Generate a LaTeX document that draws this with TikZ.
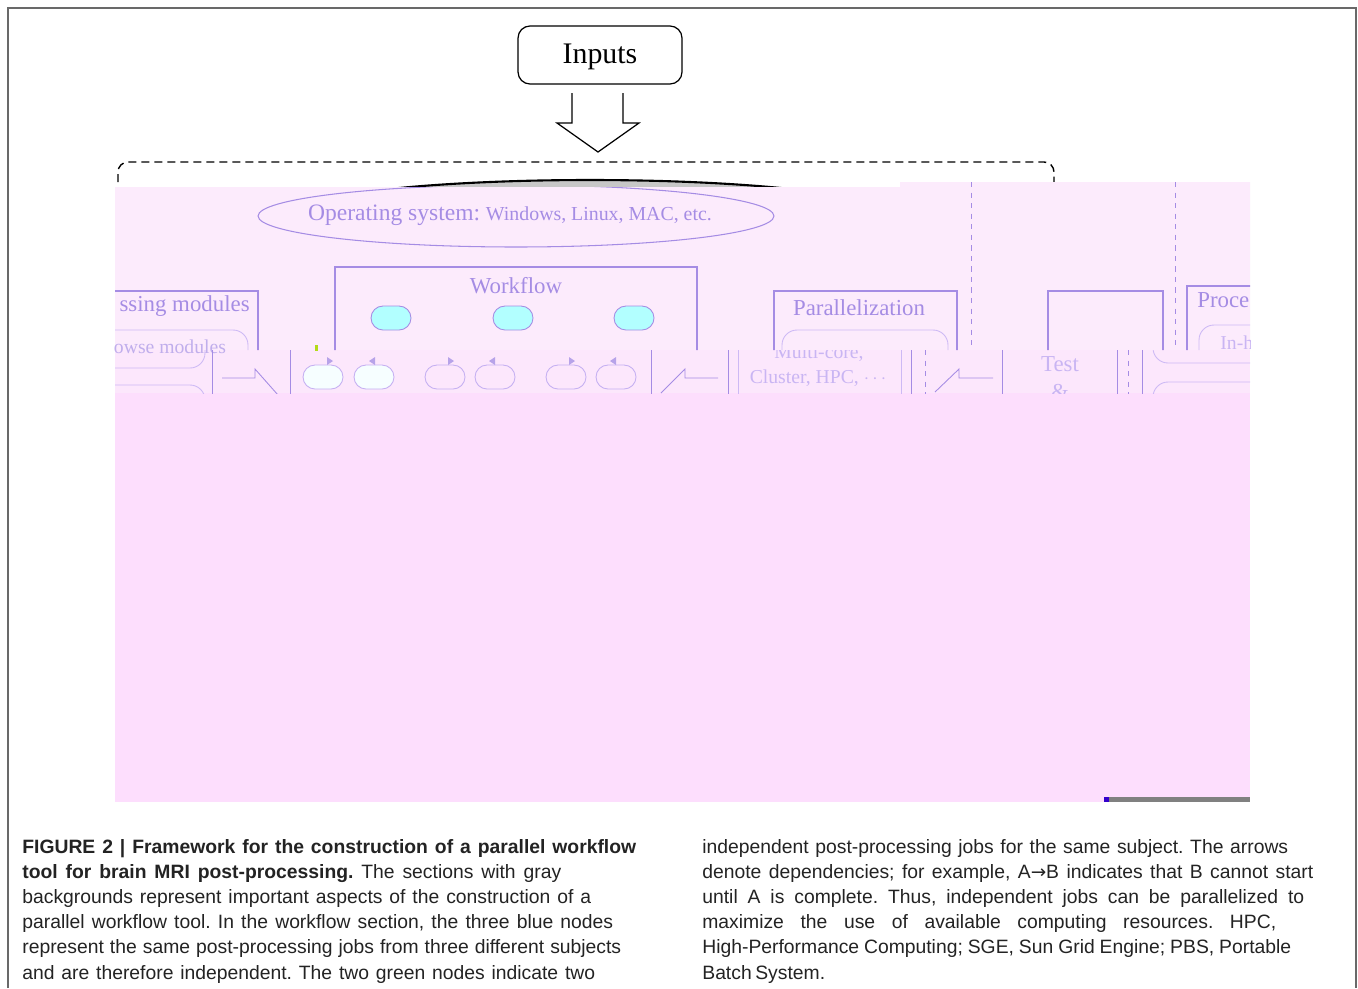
\documentclass[tikz,border=0pt]{standalone}
\usepackage{fontspec}
\setmainfont{Liberation Serif}
\newfontfamily\capfont{Liberation Sans}
\newfontfamily\arrowfont{DejaVu Sans}
\usetikzlibrary{shapes.geometric}
\definecolor{pinktop}{RGB}{252,235,252}
\definecolor{pinkband}{RGB}{252,231,252}
\definecolor{pinklow}{RGB}{253,222,253}
\definecolor{lav}{RGB}{165,140,228}
\definecolor{lavlight}{RGB}{205,185,245}
\definecolor{jobcyan}{RGB}{178,255,255}
\definecolor{jobwhite}{RGB}{246,254,255}
\definecolor{framegray}{RGB}{105,105,105}
\definecolor{captext}{RGB}{35,35,35}

\tikzset{
  inbox/.style={draw,line width=0.7pt,rounded corners=0.24cm,minimum width=3.28cm,minimum height=1.16cm,text height=1.2em,text depth=0.22em,font=\fontsize{17}{19}\selectfont},
  partbox/.style={draw=lav,line width=0.6pt},
  subbox/.style={draw=lavlight,line width=0.5pt,rounded corners=0.3cm},
  titletext/.style={text=lav,inner sep=0pt,font=\fontsize{13}{15}\selectfont},
  bandtext/.style={text=lavlight!90!lav,inner sep=0pt,font=\fontsize{11.2}{13}\selectfont},
  jobnode/.style={draw=lavlight!80!lav,line width=0.5pt,rounded corners=0.24cm,minimum width=0.8cm,minimum height=0.48cm,inner sep=0pt},
  captxt/.style={anchor=base west,inner sep=0pt,text=captext,font=\capfont\fontsize{11}{13}\selectfont\frenchspacing}
}

\begin{document}
\begin{tikzpicture}[x=0.02cm,y=-0.02cm]
  \useasboundingbox (0,0) rectangle (1358,988);
  \fill[white] (0,0) rectangle (1358,988);
  \draw[framegray,line width=1.1pt] (8,988) -- (8,8) -- (1356,8) -- (1356,988);

  \node[inbox] (inputs) at (600,55) {Inputs};
  \draw[line width=0.7pt] (572,93) -- (572,123) -- (557,123) -- (598,152) -- (639,123) -- (623,123) -- (623,93);
  \draw[dashed,dash pattern=on 0.16cm off 0.1cm,line width=0.8pt,rounded corners=0.2cm]
    (118,195) -- (118,162) -- (1054,162) -- (1054,195);
  \draw[line width=1.2pt,fill=black!22] (590,215) ellipse [x radius=6cm,y radius=0.7cm];

  \fill[pinktop] (115,187) -- (900,187) -- (900,182) -- (1250,182) -- (1250,350) -- (115,350) -- cycle;
  \fill[pinkband] (115,350) rectangle (1250,393);
  \fill[pinklow] (115,393) rectangle (1250,802);

  \begin{scope}
    \clip (115,187) -- (900,187) -- (900,182) -- (1250,182) -- (1250,350) -- (115,350) -- cycle;
    \draw[lav,line width=0.6pt] (516,216) ellipse [x radius=5.16cm,y radius=0.62cm];
    \node[inner sep=0pt,text=lav] (os) at (510,215)
      {{\fontsize{13.4}{15}\selectfont Operating system:} {\fontsize{11.3}{13}\selectfont Windows, Linux, MAC, etc.}};
    \draw[partbox] (90,291) rectangle (258,420);
    \node[titletext,anchor=east] (modtitle) at (250,306) {ssing modules};
    \draw[subbox] (60,330) rectangle (248,420);
    \draw[partbox] (335,267) rectangle (697,420);
    \node[titletext] (wftitle) at (516,286) {Workflow};
    \foreach \xx/\nm in {391/wa,513/wb,634/wc}
      \node[jobnode,draw=lav,fill=jobcyan] (\nm) at (\xx,318) {};
    \draw[partbox] (774,291) rectangle (957,420);
    \node[titletext] (partitle) at (859,308) {Parallelization};
    \draw[subbox] (782,330) rectangle (948,420);
    \draw[lav,dashed,line width=0.5pt] (971,182) -- (971,350);
    \draw[lav,dashed,line width=0.5pt] (1175,182) -- (1175,350);
    \draw[partbox] (1048,291) rectangle (1163,420);
    \draw[partbox] (1187,286) rectangle (1300,420);
    \node[titletext,anchor=west] (proctitle) at (1197,300) {Proce};
    \draw[subbox] (1199,325) rectangle (1320,420);
    \node[bandtext,anchor=west] (inhouse) at (1220,343) {In-h};
  \end{scope}
  \node[bandtext,text=lav!70] (modsub) at (170,347) {owse modules};

  \begin{scope}
    \clip (115,350) rectangle (1250,393);
    \draw[subbox] (60,300) rectangle (205,368);
    \draw[subbox] (60,385) rectangle (205,450);
    \foreach \xx in {212,290,651,728,911,1002,1117,1142}
      \draw[lav,line width=0.5pt] (\xx,350) -- (\xx,396);
    \foreach \xx in {738,901}
      \draw[lavlight,line width=0.5pt] (\xx,350) -- (\xx,396);
    \foreach \xx in {925,1128}
      \draw[lav,dashed,line width=0.5pt] (\xx,350) -- (\xx,396);
    \draw[lav,line width=0.5pt] (222,378) -- (255,378) -- (255,369) -- (278,395);
    \draw[lav,line width=0.5pt] (661,393) -- (685,369) -- (685,378) -- (718,378);
    \draw[lav,line width=0.5pt] (935,392) -- (959,369) -- (959,378) -- (993,378);
    \foreach \xx/\nm [count=\k] in {323/ja,374/jb,445/jc,495/jd,566/je,616/jf}{
      \ifnum\k<3
        \node[jobnode,fill=jobwhite] (\nm) at (\xx,377) {};
      \else
        \node[jobnode] (\nm) at (\xx,377) {};
      \fi
    }
    \foreach \xx in {327,448,569}
      \fill[lav!80] (\xx,357) -- (\xx+6,361) -- (\xx,365) -- cycle;
    \foreach \xx in {375,495,616}
      \fill[lav!80] (\xx,357) -- (\xx-6,361) -- (\xx,365) -- cycle;
    \node[bandtext] (multicore) at (819,353) {Multi-core,};
    \node[bandtext] (cluster) at (818,378) {Cluster, HPC, $\cdots$};
    \node[titletext,text=lavlight!90!lav] (testlbl) at (1060,364) {Test};
    \node[titletext,text=lavlight!90!lav] (amplbl) at (1060,392) {\&};
    \draw[subbox] (1153,300) rectangle (1300,363);
    \draw[subbox] (1153,382) rectangle (1300,450);
  \end{scope}
  \fill[yellow!70!green] (315,345) rectangle (318,351);

  \fill[black!50] (1104,797) rectangle (1250,802);
  \fill[blue!60!violet] (1104,797) rectangle (1109,802);

  \node[captxt] (c1) at (22,853) {\makebox[12.28cm][s]{\textbf{FIGURE 2 | Framework for the construction of a parallel workflow}}};
  \node[captxt] (c2) at (22,878) {\makebox[10.78cm][s]{\textbf{tool for brain MRI post-processing.} The sections with gray}};
  \node[captxt] (c3) at (22,903) {\makebox[11.38cm][s]{backgrounds represent important aspects of the construction of a}};
  \node[captxt] (c4) at (22,928) {\makebox[11.82cm][s]{parallel workflow tool. In the workflow section, the three blue nodes}};
  \node[captxt] (c5) at (22,953) {\makebox[11.98cm][s]{represent the same post-processing jobs from three different subjects}};
  \node[captxt] (c6) at (22,979) {\makebox[11.46cm][s]{and are therefore independent. The two green nodes indicate two}};
  \node[captxt] (d1) at (702,853) {\makebox[11.72cm][s]{independent post-processing jobs for the same subject. The arrows}};
  \node[captxt] (d2) at (702,878) {\makebox[12.22cm][s]{denote dependencies; for example, A{\arrowfont\fontsize{10.5}{12}\selectfont →}B indicates that B cannot start}};
  \node[captxt] (d3) at (702,903) {\makebox[12.04cm][s]{until A is complete. Thus, independent jobs can be parallelized to}};
  \node[captxt] (d4) at (702,928) {\makebox[11.48cm][s]{maximize the use of available computing resources. HPC,}};
  \node[captxt] (d5) at (702,953) {\makebox[11.78cm][s]{High-Performance Computing; SGE, Sun Grid Engine; PBS, Portable}};
  \node[captxt] (d6) at (702,979) {\makebox[2.44cm][s]{Batch System.}};
\end{tikzpicture}
\end{document}
